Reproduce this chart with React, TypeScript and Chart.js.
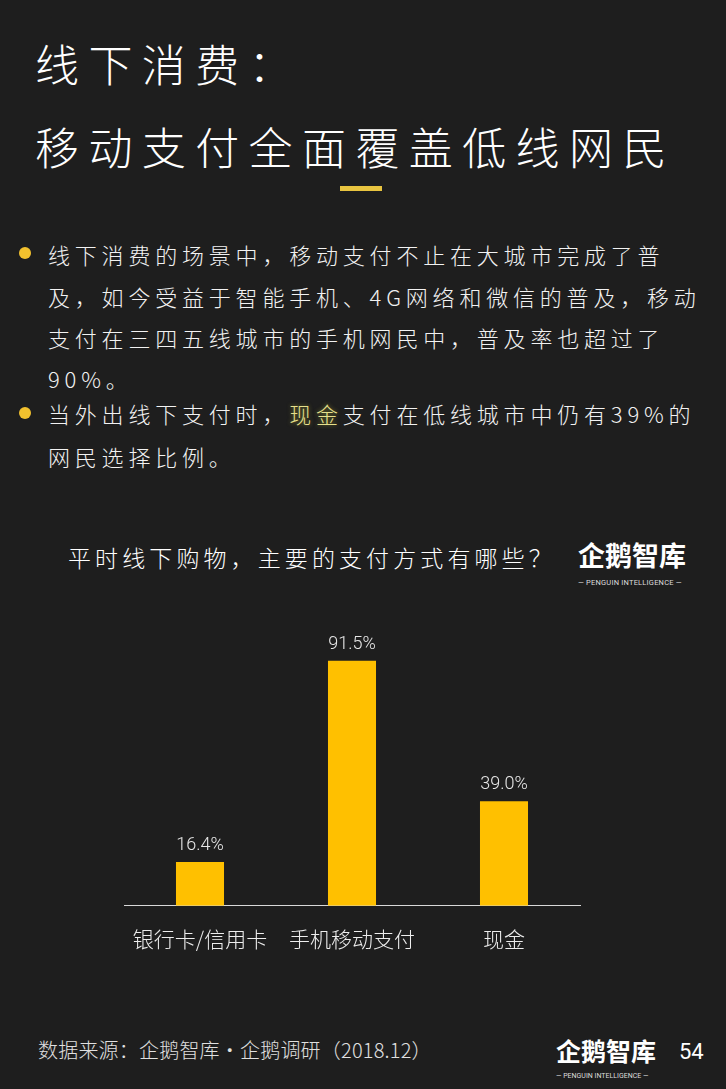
import React, { useEffect, useRef } from "react";
import { Chart, registerables } from "chart.js";

Chart.register(...registerables);

const categories = ["银行卡/信用卡", "手机移动支付", "现金"];
const shares = [16.4, 91.5, 39.0];
const valueLabels = shares.map((v) => v.toFixed(1) + "%");

const titleLines = ["线下消费：", "移动支付全面覆盖低线网民"];
const chartTitle = "平时线下购物，主要的支付方式有哪些？";
const sourceText = "数据来源：企鹅智库·企鹅调研（2018.12）";
const pageNumber = "54";

const BG = "#1e1e1e";
const GOLD = "#FFC000";
const CJK = '"Noto Sans CJK SC", "Noto Sans", sans-serif';

const labelPlugin = {
  id: "valueLabels",
  afterDatasetsDraw(chart: any) {
    const { ctx } = chart;
    const meta = chart.getDatasetMeta(0);
    ctx.save();
    ctx.font = '300 18px Roboto, "Open Sans", sans-serif';
    ctx.fillStyle = "#e6e6e6";
    ctx.textAlign = "center";
    ctx.textBaseline = "alphabetic";
    meta.data.forEach((bar: any, i: number) => {
      ctx.fillText(valueLabels[i], bar.x, bar.y - 12);
    });
    ctx.restore();
  },
};

function BarChart() {
  const ref = useRef<HTMLCanvasElement | null>(null);
  useEffect(() => {
    if (!ref.current) return;
    const chart = new Chart(ref.current, {
      type: "bar",
      data: {
        labels: categories,
        datasets: [
          {
            data: shares,
            backgroundColor: GOLD,
            borderWidth: 0,
            barPercentage: 0.316,
            categoryPercentage: 1,
          },
        ],
      },
      options: {
        responsive: false,
        animation: false,
        layout: { padding: { top: 38, bottom: 18, left: 124, right: 146 } },
        plugins: { legend: { display: false }, tooltip: { enabled: false } },
        scales: {
          x: {
            grid: { display: false, drawTicks: false },
            border: { display: true, color: "#d9d9d9", width: 1 },
            ticks: {
              color: "#eeeeee",
              padding: 21,
              font: { family: CJK, size: 21, weight: 300 as any },
              maxRotation: 0,
              autoSkip: false,
            },
          },
          y: { display: false, min: 0, max: 100 },
        },
      },
      plugins: [labelPlugin],
    });
    return () => chart.destroy();
  }, []);
  return <canvas ref={ref} width={726} height={391} />;
}

const abs = (left: number, top: number, extra: React.CSSProperties = {}): React.CSSProperties => ({
  position: "absolute",
  left,
  top,
  whiteSpace: "nowrap",
  ...extra,
});

function Bullet({ top }: { top: number }) {
  return (
    <div
      style={{
        position: "absolute",
        left: 19,
        top,
        width: 12,
        height: 12,
        borderRadius: 6,
        background: "#f2c12e",
      }}
    />
  );
}

export default function App() {
  useEffect(() => {
    document.body.style.margin = "0";
  }, []);
  const bodyStyle: React.CSSProperties = {
    fontFamily: CJK,
    fontSize: 22,
    lineHeight: "22px",
    letterSpacing: "4.8px",
    color: "#f2f2f2",
    fontWeight: 300,
  };
  const titleStyle: React.CSSProperties = {
    fontSize: 44,
    lineHeight: "44px",
    letterSpacing: "9.4px",
    color: "#fff",
    fontWeight: 300,
  };
  return (
    <div
      style={{
        position: "absolute",
        left: 0,
        top: 0,
        width: 726,
        height: 1089,
        background: BG,
        overflow: "hidden",
        fontFamily: CJK,
      }}
    >
      {/* main title */}
      <div style={abs(35, 41, titleStyle)}>{titleLines[0]}</div>
      <div style={abs(35, 124, titleStyle)}>{titleLines[1]}</div>
      <div style={{ position: "absolute", left: 340, top: 186, width: 42, height: 5, background: "#e8c440" }} />

      {/* bullets */}
      <Bullet top={247} />
      <div style={abs(48, 243, bodyStyle)}>线下消费的场景中，移动支付不止在大城市完成了普</div>
      <div style={abs(48, 285, bodyStyle)}>及，如今受益于智能手机、4G网络和微信的普及，移动</div>
      <div style={abs(48, 326, bodyStyle)}>支付在三四五线城市的手机网民中，普及率也超过了</div>
      <div style={abs(48, 367, bodyStyle)}>90%。</div>
      <Bullet top={407} />
      <div style={abs(48, 402, bodyStyle)}>
        当外出线下支付时，<span style={{ color: "#e6e08c", textShadow: "0 0 4px rgba(200,200,60,0.6)" }}>现金</span>支付在低线城市中仍有39%的
      </div>
      <div style={abs(48, 445, bodyStyle)}>网民选择比例。</div>

      {/* chart title */}
      <div style={abs(68, 546, { fontSize: 23, lineHeight: "23px", letterSpacing: "4.1px", color: "#fff", fontWeight: 300 })}>
        {chartTitle}
      </div>
      {/* logo top */}
      <div style={abs(578, 540, { fontSize: 27, lineHeight: "30px", letterSpacing: "0px", color: "#fff", fontWeight: 600 })}>
        企鹅智库
      </div>
      <div style={abs(578, 578, { fontSize: 7.5, lineHeight: "9px", color: "#ddd", fontFamily: "Roboto, sans-serif", letterSpacing: "0.2px" })}>
        — PENGUIN INTELLIGENCE —
      </div>

      {/* chart */}
      <div style={{ position: "absolute", left: 0, top: 600, width: 726, height: 391 }}>
        <BarChart />
      </div>

      {/* footer */}
      <div style={abs(38, 1039, { fontSize: 20, lineHeight: "22px", letterSpacing: "0.2px", color: "#e0e0e0", fontWeight: 300 })}>
        {sourceText}
      </div>
      <div style={abs(556, 1036, { fontSize: 25, lineHeight: "28px", color: "#fff", fontWeight: 600 })}>
        企鹅智库
      </div>
      <div style={abs(556, 1072, { fontSize: 7, lineHeight: "8px", color: "#ddd", fontFamily: "Roboto, sans-serif" })}>
        — PENGUIN INTELLIGENCE —
      </div>
      <div style={abs(679, 1040, { fontSize: 22, lineHeight: "24px", color: "#fff", fontFamily: "Roboto, sans-serif" })}>
        {pageNumber}
      </div>
    </div>
  );
}
